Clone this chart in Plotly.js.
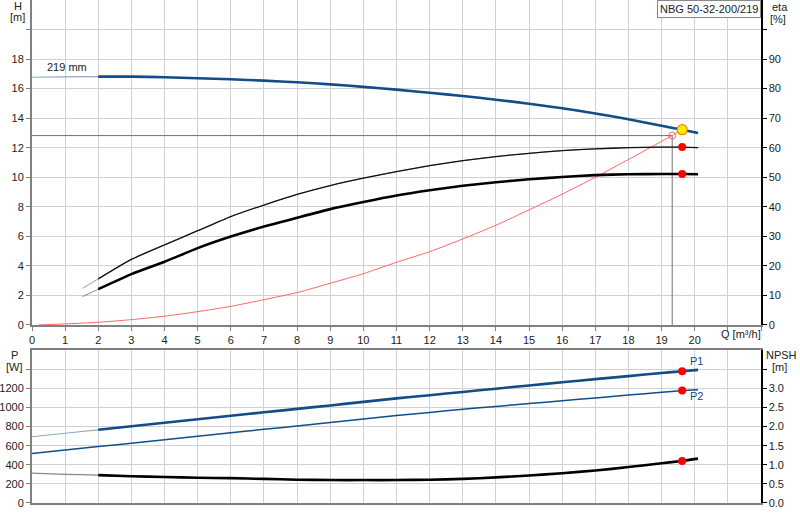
<!DOCTYPE html>
<html>
<head>
<meta charset="utf-8">
<script src="https://cdn.plot.ly/plotly-3.0.1.min.js"></script>
<style>
  body { margin: 0; background: #fff; }
  #chart { width: 800px; height: 520px; }
</style>
</head>
<body>
<div id="chart"></div>
<script>
// pump curve NBG 50-32-200/219
var qTicks = [0,1,2,3,4,5,6,7,8,9,10,11,12,13,14,15,16,17,18,19,20,21,22];

// head curve, 219 mm impeller
var qH = [0,1,2,3,4,5,6,7,8,9,10,11,12,13,14,15,16,17,18,19,19.62,20.1];
var hH = [16.77,16.8,16.81,16.81,16.77,16.7,16.63,16.54,16.43,16.29,16.12,15.93,15.72,15.5,15.25,14.98,14.67,14.32,13.93,13.48,13.22,13.0];

// efficiency curves [%]
var qEta = [1.53,2,3,4,5,6,7,8,9,10,11,12,13,14,15,16,17,18,19,19.62,20.1];
var eta1 = [12.4,15.6,22.2,27.1,31.9,36.7,40.6,44.2,47.2,49.7,51.9,53.9,55.6,57.0,58.1,59.0,59.6,60.0,60.2,60.2,60.0];
var eta2 = [9.6,12.1,17.2,21.4,26.0,29.9,33.3,36.3,39.2,41.6,43.8,45.6,47.1,48.3,49.3,50.1,50.7,51.0,51.1,51.1,51.0];

// system curve
var qSys = [0.2,1,2,3,4,5,6,7,8,9,10,11,12,13,14,15,16,17,18,19,19.32,19.62];
var hSys = [0,0.07,0.18,0.36,0.59,0.9,1.26,1.71,2.19,2.82,3.47,4.24,4.96,5.82,6.75,7.79,8.85,10.0,11.2,12.43,12.82,13.22];

// power and NPSH
var qP = [0,1,2,3,4,5,6,7,8,9,10,11,12,13,14,15,16,17,18,19,19.62,20.1];
var p1 = [693,730,766,803,840,876,913,949,985,1021,1058,1095,1128,1162,1196,1230,1263,1296,1328,1360,1379,1393];
var p2 = [518,554,590,626,662,698,735,771,806,842,878,915,948,980,1011,1040,1070,1100,1130,1158,1176,1186];
var npsh = [0.78,0.75,0.73,0.7,0.68,0.66,0.65,0.63,0.61,0.6,0.6,0.6,0.61,0.63,0.67,0.72,0.78,0.85,0.94,1.04,1.1,1.16];

// duty point and system intersection
var dutyQ = 19.62, dutyH = 13.22;
var sysQ = 19.32, sysH = 12.82;

var BLUE = "#124d87";
var GRID = "#d0d0d0";
var AX = "#808080";

// keep only points from qMin upward (thick part of curve)
function from(q, v, qMin) {
  var xs = [], ys = [];
  for (var i = 0; i < q.length; i++) {
    if (q[i] >= qMin) { xs.push(q[i]); ys.push(v[i]); }
  }
  return { x: xs, y: ys };
}
function at(q, v, qv) { return v[q.indexOf(qv)]; }

function line(x, y, color, width, xa, ya) {
  return { x: x, y: y, type: "scatter", mode: "lines", xaxis: xa, yaxis: ya,
    line: { color: color, width: width, shape: "spline", smoothing: 0.6 }, hoverinfo: "skip" };
}
function dots(x, y, xa, ya) {
  return { x: x, y: y, type: "scatter", mode: "markers", xaxis: xa, yaxis: ya,
    marker: { color: "#ff0000", size: 8 }, hoverinfo: "skip" };
}

var hThick = from(qH, hH, 2);
var e1Thick = from(qEta, eta1, 2);
var e2Thick = from(qEta, eta2, 2);
var p1Thick = from(qP, p1, 2);
var nThick = from(qP, npsh, 2);

var traces = [
  // duty lines
  { x: [0, sysQ, sysQ], y: [sysH, sysH, 0], type: "scatter", mode: "lines", xaxis: "x", yaxis: "y",
    line: { color: "#707070", width: 1 }, hoverinfo: "skip" },
  line(qSys, hSys, "#ff6666", 1, "x", "y"),
  line(qEta, eta1, "#999", 1, "x", "y2"),
  line(e1Thick.x, e1Thick.y, "#111", 1.3, "x", "y2"),
  line(qEta, eta2, "#888", 1, "x", "y2"),
  line(e2Thick.x, e2Thick.y, "#000", 2.6, "x", "y2"),
  line(qH, hH, "#8fa8c4", 1.2, "x", "y"),
  line(hThick.x, hThick.y, BLUE, 2.6, "x", "y"),
  { x: [sysQ], y: [sysH], type: "scatter", mode: "markers", xaxis: "x", yaxis: "y",
    marker: { color: "rgba(255,255,255,0)", size: 7, line: { color: "#ff6666", width: 1 } }, hoverinfo: "skip" },
  dots([dutyQ, dutyQ], [at(qEta, eta1, dutyQ), at(qEta, eta2, dutyQ)], "x", "y2"),
  { x: [dutyQ], y: [dutyH], type: "scatter", mode: "markers", xaxis: "x", yaxis: "y",
    marker: { color: "#ffee00", size: 10, line: { color: "#f08000", width: 1.2 } }, hoverinfo: "skip" },

  // lower chart
  line(qP, p2, BLUE, 1.5, "x2", "y3"),
  line(qP, p1, "#8fa8c4", 1.2, "x2", "y3"),
  line(p1Thick.x, p1Thick.y, BLUE, 2.6, "x2", "y3"),
  line(qP, npsh, "#888", 1.2, "x2", "y4"),
  line(nThick.x, nThick.y, "#000", 2.6, "x2", "y4"),
  dots([dutyQ, dutyQ], [at(qP, p1, dutyQ), at(qP, p2, dutyQ)], "x2", "y3"),
  dots([dutyQ], [at(qP, npsh, dutyQ)], "x2", "y4")
];

function px(x) { return (x - 32) / 729; }
function py(y) { return (503 - y) / 503; }

function lbl(text, x, y, extra) {
  var a = { text: text, xref: "paper", yref: "paper", x: px(x), y: py(y), showarrow: false,
    font: { size: 11, color: "#222" }, xanchor: "center", yanchor: "middle" };
  for (var k in extra) a[k] = extra[k];
  return a;
}

var tickFont = { size: 11, color: "#222", family: "Liberation Sans, Arial, sans-serif" };

function xAxis(anchor, labels) {
  return {
    domain: [0, 1], anchor: anchor, range: [0, 22],
    tickmode: "array", tickvals: qTicks,
    ticktext: qTicks.map(function (v) { return v <= 20 ? String(v) : ""; }),
    showticklabels: labels, ticks: labels ? "outside" : "", ticklen: 4, tickcolor: AX,
    showgrid: true, gridcolor: GRID, gridwidth: 1, zeroline: false,
    showline: true, linecolor: AX, linewidth: 2, tickfont: tickFont
  };
}
function yAxis(domain, range, vals, texts, anchor, side, overlay, grid, lcolor) {
  var a = {
    domain: domain, range: range, anchor: anchor, side: side,
    tickmode: "array", tickvals: vals, ticktext: texts,
    ticks: "outside", ticklen: 4, tickcolor: lcolor,
    showgrid: grid, gridcolor: GRID, gridwidth: 1, zeroline: false,
    showline: true, linecolor: lcolor, linewidth: side == "right" ? 1.5 : 2, tickfont: tickFont
  };
  if (overlay) a.overlaying = overlay;
  return a;
}

var hVals = [0,2,4,6,8,10,12,14,16,18,20];
var etaVals = [0,10,20,30,40,50,60,70,80,90,100];
var pVals = [0,200,400,600,800,1000,1200,1400];
var nVals = [0,0.5,1,1.5,2,2.5,3,3.5];

var x2 = xAxis("y3", false);
x2.matches = "x";
x2.mirror = true;

var layout = {
  width: 800, height: 520,
  margin: { l: 32, r: 39, t: 0, b: 17 },
  paper_bgcolor: "#fff", plot_bgcolor: "#fff",
  font: { family: "Liberation Sans, Arial, sans-serif", size: 11, color: "#222" },
  showlegend: false,
  xaxis: xAxis("y", true),
  xaxis2: x2,
  yaxis: yAxis([0.354, 1], [0, 22], hVals, hVals.map(function (v) { return v < 20 ? String(v) : ""; }),
    "x", "left", null, true, AX),
  yaxis2: yAxis([0.354, 1], [0, 110], etaVals, etaVals.map(function (v) { return v < 100 ? String(v) : ""; }),
    "x", "right", "y", false, "#000"),
  yaxis3: yAxis([0, 0.304], [0, 1600], pVals, pVals.map(function (v) { return v < 1400 ? String(v) : ""; }),
    "x2", "left", null, true, AX),
  yaxis4: yAxis([0, 0.304], [0, 4], nVals, nVals.map(function (v) { return v < 3.5 ? v.toFixed(1) : ""; }),
    "x2", "right", "y3", false, "#000"),
  annotations: [
    lbl("H", 18, 6), lbl("[m]", 17, 17),
    lbl("eta", 780, 7), lbl("[%]", 778, 19),
    lbl("P", 14, 355), lbl("[W]", 14, 367),
    lbl("NPSH", 781, 355), lbl("[m]", 779, 367),
    { text: "219 mm", xref: "x", yref: "y", x: 1.06, y: 17.45, showarrow: false, font: { size: 11, color: "#222" } },
    { text: "Q [m³/h]", xref: "x", yref: "paper", x: 21.4, y: py(334), showarrow: false, font: { size: 11, color: "#222" } },
    { text: "NBG 50-32-200/219", xref: "paper", yref: "paper", x: 1, y: 1, xanchor: "right", yanchor: "top",
      showarrow: false, bgcolor: "#fff", bordercolor: "#888", borderwidth: 1, borderpad: 2,
      font: { size: 11, color: "#222" } },
    { text: "P1", xref: "x2", yref: "y3", x: 20.05, y: 1483, showarrow: false, font: { size: 11, color: BLUE } },
    { text: "P2", xref: "x2", yref: "y3", x: 20.05, y: 1116, showarrow: false, font: { size: 11, color: BLUE } }
  ]
};

Plotly.newPlot("chart", traces, layout, { staticPlot: true });
</script>
</body>
</html>
